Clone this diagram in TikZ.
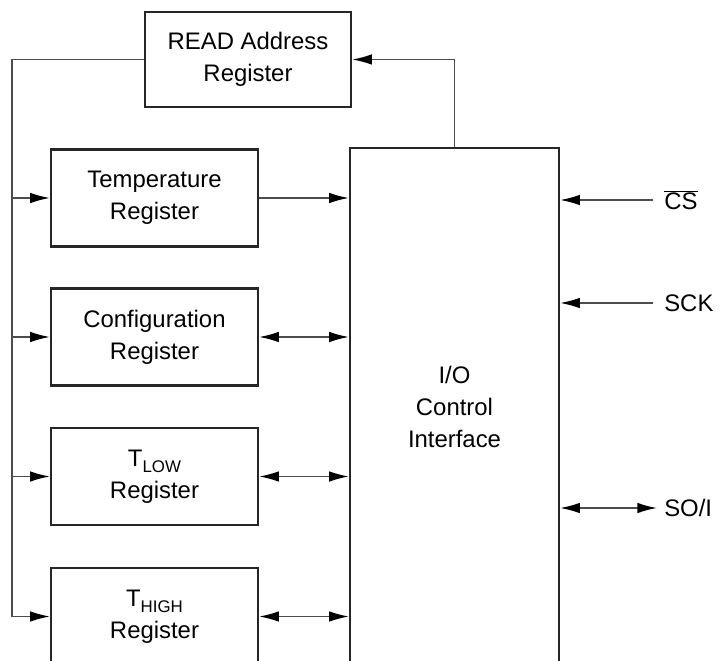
\documentclass[tikz,border=0pt]{standalone}
\usepackage{fontspec}
\setmainfont{Liberation Sans}
\usepackage{tikz}
\usetikzlibrary{arrows.meta}
\usetikzlibrary{calc}

\begin{document}
\begin{tikzpicture}[x=0.025cm, y=-0.025cm,
    reg/.style={draw=black!85, line width=1.6pt, fill=white, align=center,
        minimum width=5.175cm, minimum height=2.425cm, inner sep=0pt,
        font=\fontsize{17}{22.5}\selectfont},
    wire/.style={draw=black!70, line width=1.1pt},
    arr/.style={wire, -{Latex[length=14pt, width=7.5pt, color=black]}},
    darr/.style={wire, {Latex[length=14pt, width=7.5pt, color=black]}-{Latex[length=14pt, width=7.5pt, color=black]}},
    pin/.style={anchor=west, inner sep=0pt, font=\fontsize{17}{20}\selectfont}]
    \useasboundingbox (0,0) rectangle (720,661);

    % Registros
    \node[reg, minimum width=5.15cm, minimum height=2.375cm] (read) at (248,59.5) {READ Address\\Register};
    \node[reg] (temp) at (154.5,198) {Temperature\\Register};
    \node[reg] (config) at (154.5,337) {Configuration\\Register};
    \node[reg] (tlow) at (154.5,476.5) {T\raisebox{-0.45ex}{\fontsize{12}{12}\selectfont LOW}\\Register};
    \node[reg] (thigh) at (154.5,616.5) {T\raisebox{-0.45ex}{\fontsize{12}{12}\selectfont HIGH}\\Register};

    % Interfaz
    \node[reg, minimum width=5.225cm, minimum height=12.95cm] (io) at (454.5,407) {I/O\\Control\\Interface};

    % Pines
    \node[pin] (cs) at (664,200) {$\overline{\mbox{CS}}$};
    \node[pin] (sck) at (664,303) {SCK};
    \node[pin] (soi) at (664,508) {SO/I};

    % Bus izquierdo
    \coordinate (busL) at (12,59.5);
    \draw[arr] (read.west) -- (busL) -- (busL |- thigh.west) -- (thigh.west);
    \foreach \r in {temp,config,tlow}
        \draw[arr] (busL |- \r.west) -- (\r.west);

    % Conexiones con la interfaz
    \draw[arr] (io.north) |- (read.east);
    \draw[arr] (temp.east) -- (temp.east -| io.west);
    \foreach \r in {config,tlow,thigh}
        \draw[darr] (\r.east) -- (\r.east -| io.west);

    % Señales externas
    \draw[arr] ($(cs.west)+(-11,0)$) -- (cs.west -| io.east);
    \draw[arr] ($(sck.west)+(-11,0)$) -- (sck.west -| io.east);
    \draw[darr] ($(soi.west)+(-7,0)$) -- (soi.west -| io.east);
\end{tikzpicture}
\end{document}
